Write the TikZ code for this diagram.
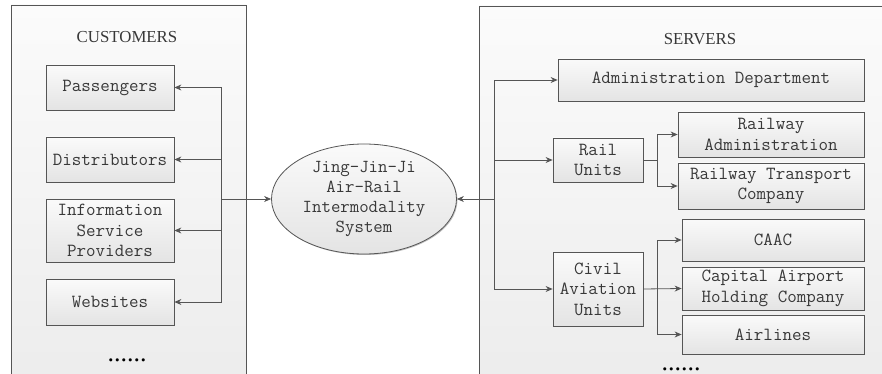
\documentclass[tikz,border=0pt]{standalone}
\usepackage{fontspec}
\newfontfamily\titlefont{Liberation Serif}
\usetikzlibrary{shapes.geometric,shadows,arrows.meta}
\definecolor{lineclr}{HTML}{555555}
\definecolor{txtclr}{HTML}{383838}
\definecolor{panelA}{HTML}{FBFBFB}
\definecolor{panelB}{HTML}{ECECEC}
\definecolor{boxA}{HTML}{FAFAFA}
\definecolor{boxB}{HTML}{E4E4E4}
\tikzset{
  panel/.style={draw=lineclr, line width=0.9pt, top color=panelA, bottom color=panelB},
  unitbox/.style={draw=lineclr, line width=0.8pt, top color=boxA, bottom color=boxB,
    drop shadow={shadow xshift=1pt, shadow yshift=-1pt, opacity=0.25, fill=black},
    align=center, inner sep=0pt, text=txtclr,
    font=\ttfamily\fontsize{18.5}{20.5}\selectfont},
  sysnode/.style={ellipse, draw=lineclr, line width=0.8pt, top color=boxA, bottom color=boxB,
    drop shadow={shadow xshift=1pt, shadow yshift=-1pt, opacity=0.25, fill=black},
    align=center, inner sep=0pt, text=txtclr,
    font=\ttfamily\fontsize{18.3}{20}\selectfont},
  title/.style={text=txtclr, font=\titlefont\fontsize{16.8}{20}\selectfont, inner sep=0pt},
  dots/.style={text=black, font=\titlefont\fontsize{26}{28}\selectfont, inner sep=0pt},
  arr/.style={draw=lineclr, line width=0.8pt, -{Stealth[length=7pt,width=6pt]}},
  ln/.style={draw=lineclr, line width=0.8pt}
}
\begin{document}
\begin{tikzpicture}[x=1pt,y=-1pt]
\useasboundingbox (0,0) rectangle (882,374);
\clip (0,0) rectangle (882,374);
\fill[white] (0,0) rectangle (882,374);
% panels
\path[panel] (11,5) rectangle (246,390);
\path[panel] (479,6) rectangle (900,390);
\node[title] (cust) at (127,37) {CUSTOMERS};
\node[title] (serv) at (700,39) {SERVERS};
% customers
\node[unitbox, minimum width=128pt, minimum height=45pt] (pass) at (110,87.5) {Passengers};
\node[unitbox, minimum width=128pt, minimum height=45pt] (dist) at (110,159.5) {Distributors};
\node[unitbox, minimum width=128pt, minimum height=63pt] (info) at (110,230.5) {Information\\Service\\Providers};
\node[unitbox, minimum width=128pt, minimum height=46pt] (web) at (110,302) {Websites};
\node[dots, anchor=base] (ldots) at (127,361) {......};
% system
\node[sysnode, minimum width=185pt, minimum height=110pt] (sys) at (364,199) {Jing-Jin-Ji\\Air-Rail\\Intermodality\\System};
% servers
\node[unitbox, minimum width=306pt, minimum height=42pt] (admin) at (711,80) {Administration Department};
\node[unitbox, minimum width=90pt, minimum height=44pt] (rail) at (598,160) {Rail\\Units};
\node[unitbox, minimum width=186pt, minimum height=45pt] (radmin) at (771,134.5) {Railway\\Administration};
\node[unitbox, minimum width=186pt, minimum height=46pt] (rtrans) at (771,186) {Railway Transport\\Company};
\node[unitbox, minimum width=90pt, minimum height=74pt] (civil) at (598,289) {Civil\\Aviation\\Units};
\node[unitbox, minimum width=182pt, minimum height=42pt] (caac) at (773,240) {CAAC};
\node[unitbox, minimum width=182pt, minimum height=43pt] (cap) at (773,288.5) {Capital Airport\\Holding Company};
\node[unitbox, minimum width=182pt, minimum height=39pt] (airl) at (773,334.5) {Airlines};
\node[dots, anchor=base] (rdots) at (681,370) {......};
% left connectors
\coordinate (lb) at (221,199);
\draw[arr] (lb) -- (sys.west);
\draw[arr] (lb) |- (pass.east);
\draw[arr] (lb) |- (dist.east);
\draw[arr] (lb) |- (info.east);
\draw[arr] (lb) |- (web.east);
% right connectors
\coordinate (rb) at (494,199);
\draw[arr] (rb) -- (sys.east);
\draw[arr] (rb) |- (admin.west);
\draw[arr] (rb) |- (rail.west);
\draw[arr] (rb) |- (civil.west);
\coordinate (rs) at (657,160);
\draw[ln] (rail.east) -- (rs);
\draw[arr] (rs) |- (radmin.west);
\draw[arr] (rs) |- (rtrans.west);
\coordinate (cs) at (657,289);
\draw[arr] (civil.east) -- (cap.west);
\draw[arr] (cs) |- (caac.west);
\draw[arr] (cs) |- (airl.west);
\end{tikzpicture}
\end{document}
